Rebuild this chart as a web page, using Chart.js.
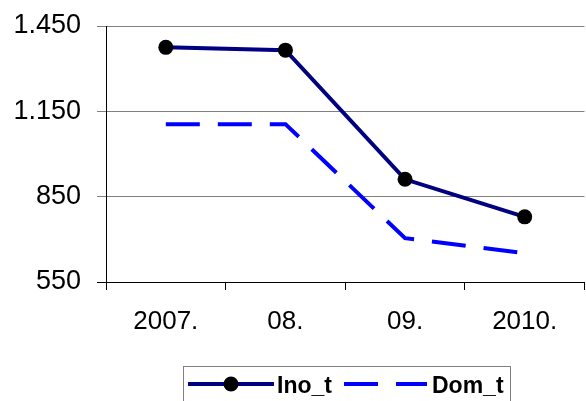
<!DOCTYPE html>
<html>
<head>
<meta charset="utf-8">
<script src="https://cdn.jsdelivr.net/npm/chart.js@4/dist/chart.umd.min.js"></script>
<style>
  html, body { margin: 0; padding: 0; background: #fff; overflow: hidden; }
  #wrap { position: relative; width: 592px; height: 401px; }
</style>
</head>
<body>
<div id="wrap"><canvas id="c"></canvas></div>
<script>
const categories = ["2007.", "08.", "09.", "2010."];
const inoT = [1375, 1365, 911, 779];
const domT = [1105, 1105, 704, 651];
const yTicks = [550, 850, 1150, 1450];
const seriesNames = ["Ino_t", "Dom_t"];

const FONT = "'Liberation Sans', Arial, sans-serif";

function fmt(v) {
  const s = String(Math.round(v));
  return s.replace(/\B(?=(\d{3})+(?!\d))/g, ".");
}

const legendPlugin = {
  id: 'customLegend',
  afterDraw(chart) {
    const ctx = chart.ctx;
    const ds = chart.data.datasets;
    ctx.save();
    ctx.strokeStyle = '#808080';
    ctx.lineWidth = 1;
    ctx.strokeRect(183.5, 366.5, 327, 60);
    const y = 384;
    ctx.strokeStyle = ds[0].borderColor;
    ctx.lineWidth = ds[0].borderWidth;
    ctx.setLineDash([]);
    ctx.beginPath(); ctx.moveTo(188, y); ctx.lineTo(274, y); ctx.stroke();
    ctx.fillStyle = ds[0].pointBackgroundColor;
    ctx.beginPath(); ctx.arc(231, y, ds[0].pointRadius, 0, Math.PI * 2); ctx.fill();
    ctx.fillStyle = '#000';
    ctx.font = "bold 23px " + FONT;
    ctx.textBaseline = 'alphabetic';
    ctx.textAlign = 'left';
    ctx.fillText(ds[0].label, 277, 393);
    ctx.strokeStyle = ds[1].borderColor;
    ctx.lineWidth = ds[1].borderWidth;
    ctx.setLineDash(ds[1].borderDash);
    ctx.lineCap = 'butt';
    ctx.beginPath(); ctx.moveTo(344, y); ctx.lineTo(427, y); ctx.stroke();
    ctx.setLineDash([]);
    ctx.fillText(ds[1].label, 432, 393);
    ctx.restore();
  }
};

new Chart(document.getElementById('c'), {
  type: 'line',
  data: {
    labels: categories,
    datasets: [
      {
        label: seriesNames[0],
        data: inoT,
        borderColor: '#000080',
        borderWidth: 4,
        pointRadius: 7.5,
        pointBackgroundColor: '#000000',
        pointBorderColor: '#000000',
        pointBorderWidth: 0,
        tension: 0,
        fill: false
      },
      {
        label: seriesNames[1],
        data: domT,
        borderColor: '#0000ff',
        borderWidth: 4,
        borderDash: [34, 18],
        borderCapStyle: 'butt',
        pointRadius: 0,
        tension: 0,
        fill: false
      }
    ]
  },
  options: {
    responsive: true,
    maintainAspectRatio: false,
    animation: false,
    layout: { padding: { top: 26, left: 0, right: 4, bottom: 0 } },
    plugins: { legend: { display: false }, tooltip: { enabled: false } },
    scales: {
      x: {
        type: 'category',
        offset: true,
        grid: {
          offset: true,
          drawOnChartArea: false,
          drawTicks: true,
          tickLength: 8,
          color: '#000000'
        },
        border: { display: true, color: '#000000', width: 1 },
        ticks: {
          color: '#000000',
          font: { family: FONT, size: 26 },
          padding: 16,
          maxRotation: 0,
          autoSkip: false
        },
        afterFit(scale) { scale.height = 401 - 282; }
      },
      y: {
        min: 550,
        max: 1450,
        afterBuildTicks(scale) { scale.ticks = yTicks.map(v => ({ value: v })); },
        grid: {
          color: (c) => (c.tick && c.tick.value === 550) ? '#000000' : '#7f7f7f',
          tickLength: 9,
          drawTicks: true
        },
        border: { display: true, color: '#000000', width: 1 },
        ticks: {
          color: '#000000',
          font: { family: FONT, size: 27 },
          padding: 16,
          callback: (v) => fmt(v)
        },
        afterFit(scale) { scale.width = 106; scale.paddingTop = 0; }
      }
    }
  },
  plugins: [legendPlugin]
});
</script>
</body>
</html>
